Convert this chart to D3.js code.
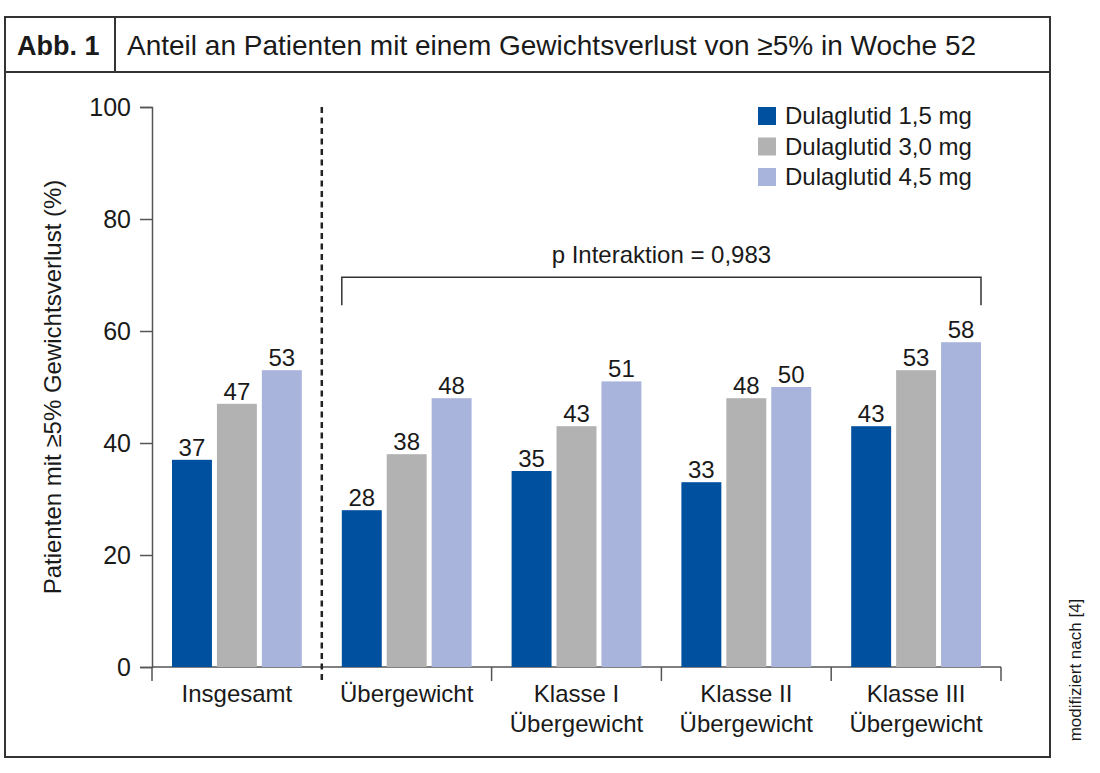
<!DOCTYPE html>
<html>
<head>
<meta charset="utf-8">
<script src="https://cdn.jsdelivr.net/npm/d3@7"></script>
<style>
  body { margin: 0; background: #fff; }
  text { font-family: "Liberation Sans", Arial, sans-serif; fill: #1a1a1a; }
</style>
</head>
<body>
<div id="chart"></div>
<script>
// data
var categories = [["Insgesamt"], ["Übergewicht"], ["Klasse I", "Übergewicht"],
                  ["Klasse II", "Übergewicht"], ["Klasse III", "Übergewicht"]];
var seriesNames = ["Dulaglutid 1,5 mg", "Dulaglutid 3,0 mg", "Dulaglutid 4,5 mg"];
var dose15 = [37, 28, 35, 33, 43];
var dose30 = [47, 38, 43, 48, 53];
var dose45 = [53, 48, 51, 50, 58];
var yTicks = [0, 20, 40, 60, 80, 100];
var colors = ["#0050a0", "#b2b2b2", "#a8b4dc"];

var svg = d3.select("#chart").append("svg")
    .attr("width", 1100).attr("height", 773);

// frame + header
svg.append("rect").attr("x", 5).attr("y", 17).attr("width", 1045).attr("height", 740)
    .attr("fill", "none").attr("stroke", "#333").attr("stroke-width", 2);
svg.append("line").attr("x1", 5).attr("x2", 1050).attr("y1", 72).attr("y2", 72)
    .attr("stroke", "#333").attr("stroke-width", 2);
svg.append("line").attr("x1", 115).attr("x2", 115).attr("y1", 17).attr("y2", 72)
    .attr("stroke", "#333").attr("stroke-width", 2);
svg.append("text").attr("x", 17).attr("y", 55)
    .style("font-size", "27px").style("font-weight", "bold").text("Abb. 1");
svg.append("text").attr("x", 127).attr("y", 55)
    .style("font-size", "28px").text("Anteil an Patienten mit einem Gewichtsverlust von ≥5% in Woche 52");

// scales
var x = d3.scaleBand().domain(d3.range(categories.length)).range([152, 1001]).padding(0);
var xs = d3.scaleBand().domain(d3.range(3)).range([20, x.bandwidth() - 20]).paddingInner(0.111);
var y = d3.scaleLinear().domain([0, 100]).range([667, 107]);

// y axis
var yAxis = svg.append("g").attr("transform", "translate(152,0)")
    .call(d3.axisLeft(y).tickValues(yTicks).tickSize(12).tickPadding(9));
yAxis.select(".domain").attr("stroke", "#555").attr("stroke-width", 1.5);
yAxis.selectAll(".tick line").attr("stroke", "#555").attr("stroke-width", 1.5);
yAxis.selectAll(".tick text").style("font-size", "25px").attr("fill", "#1a1a1a")
    .style("font-family", "'Liberation Sans', Arial, sans-serif");

svg.append("text")
    .attr("transform", "translate(61," + y(50) + ") rotate(-90)")
    .attr("text-anchor", "middle").style("font-size", "24px")
    .text("Patienten mit ≥5% Gewichtsverlust (%)");

// x axis line and boundary ticks
svg.append("line").attr("x1", 152).attr("x2", 1001).attr("y1", y(0)).attr("y2", y(0))
    .attr("stroke", "#555").attr("stroke-width", 1.5);
var bounds = d3.range(categories.length + 1).filter(function (i) { return i != 1; });
svg.selectAll(".xtick").data(bounds).enter().append("line")
    .attr("x1", function (i) { return 152 + i * x.step(); })
    .attr("x2", function (i) { return 152 + i * x.step(); })
    .attr("y1", y(0)).attr("y2", y(0) + 14)
    .attr("stroke", "#555").attr("stroke-width", 1.5);

// bars
var values = [dose15, dose30, dose45];
var groups = svg.selectAll(".grp").data(categories).enter().append("g")
    .attr("transform", function (d, i) { return "translate(" + x(i) + ",0)"; });
groups.each(function (d, ci) {
    var g = d3.select(this);
    values.forEach(function (vals, si) {
        g.append("rect")
            .attr("x", xs(si)).attr("width", xs.bandwidth())
            .attr("y", y(vals[ci])).attr("height", y(0) - y(vals[ci]))
            .attr("fill", colors[si]);
        g.append("text")
            .attr("x", xs(si) + xs.bandwidth() / 2).attr("y", y(vals[ci]) - 4)
            .attr("text-anchor", "middle").style("font-size", "24px")
            .text(vals[ci]);
    });
    g.selectAll(".lab").data(d).enter().append("text")
        .attr("x", x.bandwidth() / 2)
        .attr("y", function (t, k) { return y(0) + 35 + k * 30; })
        .attr("text-anchor", "middle").style("font-size", "24px")
        .text(function (t) { return t; });
});

// dashed separator
svg.append("line").attr("x1", x(1)).attr("x2", x(1)).attr("y1", y(100)).attr("y2", y(0) + 16)
    .attr("stroke", "#222").attr("stroke-width", 2.5).attr("stroke-dasharray", "6,4.5");

// bracket
var bx1 = x(1) + xs(0), bx2 = x(4) + xs(2) + xs.bandwidth();
svg.append("path")
    .attr("d", "M" + bx1 + "," + y(64.6) + "V" + y(69.6) + "H" + bx2 + "V" + y(64.6))
    .attr("fill", "none").attr("stroke", "#333").attr("stroke-width", 1.5);
svg.append("text").attr("x", (bx1 + bx2) / 2).attr("y", y(69.6) - 14)
    .attr("text-anchor", "middle").style("font-size", "24px").text("p Interaktion = 0,983");

// legend
var legend = svg.selectAll(".leg").data(seriesNames).enter().append("g")
    .attr("transform", function (d, i) { return "translate(758," + (107 + i * 30.5) + ")"; });
legend.append("rect").attr("width", 18).attr("height", 18)
    .attr("fill", function (d, i) { return colors[i]; });
legend.append("text").attr("x", 27).attr("y", 17).style("font-size", "24px")
    .text(function (d) { return d; });

// source note
svg.append("text").attr("transform", "translate(1081,670) rotate(-90)")
    .attr("text-anchor", "middle").style("font-size", "17px").attr("fill", "#333")
    .text("modifiziert nach [4]");
</script>
</body>
</html>
